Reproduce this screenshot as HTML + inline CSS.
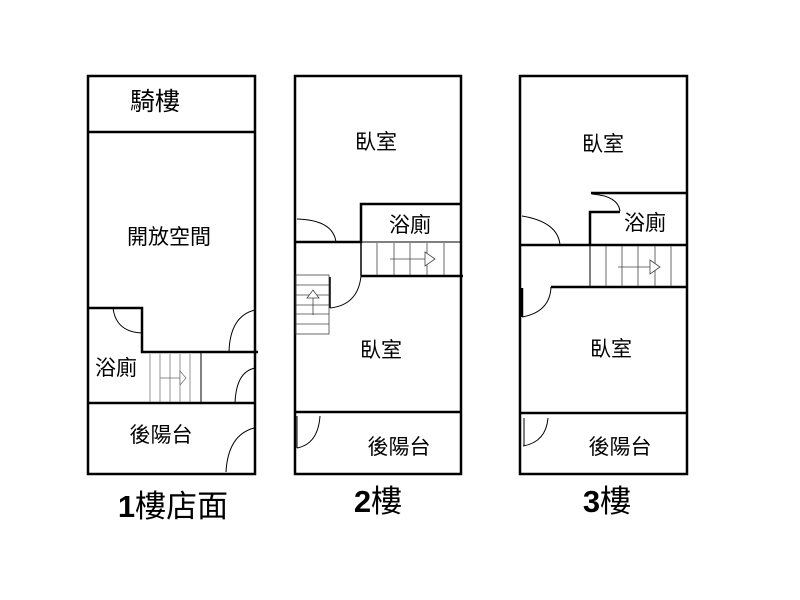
<!DOCTYPE html>
<html><head><meta charset="utf-8"><style>
body{margin:0;background:#fff;}
svg{display:block;}
text{font-family:"Liberation Sans","Noto Sans CJK TC",sans-serif;fill:#000;text-anchor:middle;}
</style></head><body>
<svg width="800" height="600" viewBox="0 0 800 600">
<g fill="none" stroke="#000">
<!-- Floor 1 -->
<rect x="88" y="76" width="167" height="398" stroke-width="2.5"/>
<line x1="88" y1="132" x2="255" y2="132" stroke-width="2.5"/>
<polyline points="88,308 142,308 142,352 201,352" stroke-width="2.5"/>
<line x1="201" y1="352" x2="258" y2="352" stroke-width="2.5"/>
<line x1="201" y1="352" x2="201" y2="403" stroke-width="1"/>
<line x1="88" y1="403" x2="255" y2="403" stroke-width="2.5"/>
<g stroke-width="0.7" stroke="#666">
<line x1="150" y1="354" x2="150" y2="402"/><line x1="160" y1="354" x2="160" y2="402"/><line x1="170" y1="354" x2="170" y2="402"/><line x1="180" y1="354" x2="180" y2="402"/><line x1="190" y1="354" x2="190" y2="402"/>
<line x1="160" y1="378" x2="180" y2="378"/><path d="M180,371 L186,378 L180,385 Z" fill="#fff"/>
</g>
<g stroke-width="1">
<path d="M113,308 Q116,332 142,333"/>
<path d="M255,310 Q230,316 229,352"/>
<path d="M255,368 Q236,372 235,403"/>
<path d="M254,428 Q228,435 226,472"/>
</g>
<!-- Floor 2 -->
<rect x="295" y="76" width="166" height="398" stroke-width="2.5"/>
<polyline points="295,242 361,242 361,204 461,204" stroke-width="2.5"/>
<line x1="361" y1="242" x2="461" y2="242" stroke-width="1"/>
<line x1="361" y1="242" x2="361" y2="276" stroke-width="1.5"/>
<line x1="361" y1="276" x2="463" y2="276" stroke-width="2.5"/>
<g stroke-width="0.8" stroke="#444">
<line x1="377" y1="243" x2="377" y2="275"/><line x1="394" y1="243" x2="394" y2="275"/><line x1="410" y1="243" x2="410" y2="275"/><line x1="427" y1="243" x2="427" y2="275"/><line x1="444" y1="243" x2="444" y2="275"/>
<line x1="390" y1="259" x2="425" y2="259"/><path d="M425,252 L435,259 L425,266 Z" fill="#fff"/>
<rect x="296" y="275" width="33" height="59"/>
<line x1="296" y1="285" x2="329" y2="285"/><line x1="296" y1="295" x2="329" y2="295"/><line x1="296" y1="305" x2="329" y2="305"/><line x1="296" y1="314" x2="329" y2="314"/><line x1="296" y1="324" x2="329" y2="324"/>
<line x1="313" y1="315" x2="313" y2="298"/><path d="M307,298 L313,290 L319,298 Z" fill="#fff"/>
</g>
<line x1="330" y1="277" x2="330" y2="308" stroke-width="1.5"/>
<g stroke-width="1">
<path d="M297,219 Q333,220 336,242"/>
<path d="M330,308 Q358,305 361,276"/>
<path d="M297,448 Q318,444 320,416"/>
<line x1="297" y1="416" x2="297" y2="448"/>
</g>
<line x1="295" y1="412" x2="461" y2="412" stroke-width="2.5"/>
<!-- Floor 3 -->
<rect x="520" y="76" width="167" height="398" stroke-width="2.5"/>
<line x1="591" y1="193" x2="687" y2="193" stroke-width="2.5"/>
<polyline points="620,212 590,212 590,245" stroke-width="2.5"/>
<line x1="520" y1="245" x2="687" y2="245" stroke-width="2.5"/>
<line x1="551" y1="287" x2="687" y2="287" stroke-width="2.5"/>
<line x1="590" y1="245" x2="590" y2="287" stroke-width="1"/>
<g stroke-width="0.8" stroke="#444">
<line x1="606" y1="246" x2="606" y2="286"/><line x1="622" y1="246" x2="622" y2="286"/><line x1="638" y1="246" x2="638" y2="286"/><line x1="655" y1="246" x2="655" y2="286"/><line x1="671" y1="246" x2="671" y2="286"/>
<line x1="618" y1="267" x2="650" y2="267"/><path d="M650,260 L660,267 L650,274 Z" fill="#fff"/>
</g>
<line x1="522" y1="288" x2="522" y2="317" stroke-width="2.5"/>
<g stroke-width="1">
<path d="M592,194 Q618,196 620,211"/>
<path d="M522,216 Q558,222 560,245"/>
<path d="M522,317 Q550,312 551,287"/>
<path d="M523,446 Q546,442 548,418"/>
<line x1="524" y1="418" x2="524" y2="446"/>
</g>
<line x1="520" y1="413" x2="687" y2="413" stroke-width="2.5"/>
</g>
<g font-size="21">
<text x="155" y="110" font-size="25">騎樓</text>
<text x="169" y="244">開放空間</text>
<text x="116" y="375">浴廁</text>
<text x="161" y="442">後陽台</text>
<text x="376" y="149">臥室</text>
<text x="410" y="232">浴廁</text>
<text x="381" y="357">臥室</text>
<text x="399" y="454">後陽台</text>
<text x="603" y="151">臥室</text>
<text x="645" y="230">浴廁</text>
<text x="611" y="356">臥室</text>
<text x="620" y="454">後陽台</text>
</g>
<g font-size="31">
<text x="173" y="517"><tspan font-weight="bold">1</tspan>樓店面</text>
<text x="378" y="512"><tspan font-weight="bold">2</tspan>樓</text>
<text x="607" y="512"><tspan font-weight="bold">3</tspan>樓</text>
</g>
</svg>
</body></html>
